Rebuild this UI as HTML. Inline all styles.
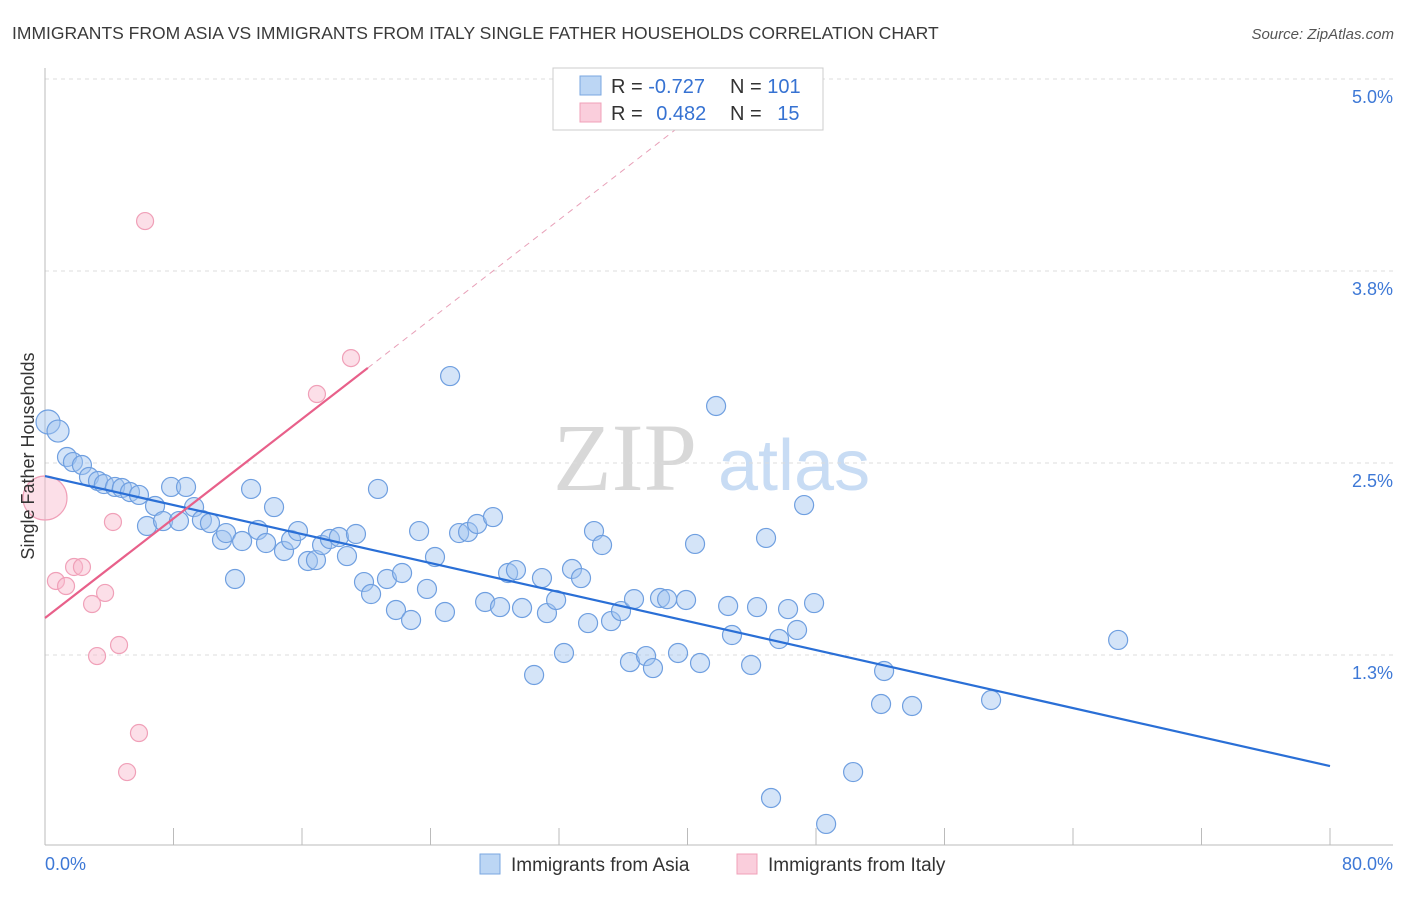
<!DOCTYPE html>
<html><head><meta charset="utf-8"><style>
body{margin:0;background:#fff;font-family:"Liberation Sans",sans-serif;}
svg text{font-family:"Liberation Sans",sans-serif;}
</style></head><body>
<svg id="chart" width="1406" height="892" xmlns="http://www.w3.org/2000/svg">
<text x="12" y="39" font-size="17.5" fill="#3a3a3a">IMMIGRANTS FROM ASIA VS IMMIGRANTS FROM ITALY SINGLE FATHER HOUSEHOLDS CORRELATION CHART</text>
<text x="1394" y="39" font-size="15" fill="#555" font-style="italic" text-anchor="end">Source: ZipAtlas.com</text>
<g>
<text x="553" y="490" font-size="96" fill="#d8d8d8" font-family="Liberation Serif" style="font-family:'Liberation Serif',serif">ZIP</text>
<text x="718" y="490" font-size="72" fill="#c8dcf4">atlas</text>
</g>
<g id="grid"></g>
<g id="axes"></g>
<g id="marks"></g>
<text transform="translate(34,456) rotate(-90)" font-size="18" fill="#333" text-anchor="middle">Single Father Households</text>
<g>
<rect x="553" y="68" width="270" height="62" fill="#fff" stroke="#ccc"/>
<rect x="580" y="76" width="21" height="19" fill="rgba(160,196,240,0.7)" stroke="#7aa7e0"/>
<rect x="580" y="103" width="21" height="19" fill="rgba(248,185,205,0.7)" stroke="#f0a0b8"/>
<text x="611" y="93" font-size="20" fill="#333">R = <tspan fill="#3672d2">-0.727</tspan></text>
<text x="730" y="93" font-size="20" fill="#333">N = <tspan fill="#3672d2">101</tspan></text>
<text x="611" y="120" font-size="20" fill="#333">R = <tspan fill="#3672d2" dx="8">0.482</tspan></text>
<text x="730" y="120" font-size="20" fill="#333">N = <tspan fill="#3672d2" dx="10">15</tspan></text>
</g>
<g>
<rect x="480" y="854" width="20" height="20" fill="rgba(160,196,240,0.7)" stroke="#7aa7e0"/>
<text x="511" y="871" font-size="19" fill="#333">Immigrants from Asia</text>
<rect x="737" y="854" width="20" height="20" fill="rgba(248,185,205,0.7)" stroke="#f0a0b8"/>
<text x="768" y="871" font-size="19" fill="#333">Immigrants from Italy</text>
</g>
</svg>
<script>
const asiaX=[0.19,0.81,1.37,1.74,2.30,2.74,3.30,3.67,4.36,4.79,5.29,5.85,6.35,6.85,7.35,7.85,8.34,8.78,9.28,9.77,10.27,11.02,11.27,11.83,12.27,12.83,13.26,13.76,14.26,14.88,15.32,15.75,16.37,16.87,17.25,17.74,18.30,18.80,19.36,19.86,20.30,20.73,21.29,21.85,22.23,22.79,23.29,23.78,24.28,24.90,25.22,25.78,26.34,26.90,27.40,27.89,28.33,28.83,29.32,29.70,30.45,30.94,31.25,31.82,32.31,32.81,33.37,33.81,34.18,34.68,35.24,35.86,36.42,36.67,37.42,37.85,38.29,38.73,39.41,39.91,40.47,40.78,41.78,42.53,42.77,43.96,44.33,44.89,45.20,45.70,46.26,46.82,47.26,47.88,48.63,50.31,52.24,52.05,53.98,58.90,66.81];
const asiaY=[2.767,2.708,2.539,2.506,2.487,2.409,2.383,2.363,2.344,2.337,2.311,2.292,2.090,2.220,2.122,2.344,2.122,2.344,2.213,2.129,2.109,1.999,2.044,1.745,1.992,2.331,2.064,1.979,2.213,1.927,1.999,2.057,1.862,1.868,1.966,2.005,2.018,1.894,2.038,1.725,1.647,2.331,1.745,1.543,1.784,1.478,2.057,1.680,1.888,1.530,3.066,2.044,2.051,2.103,1.595,2.148,1.562,1.784,1.803,1.556,1.120,1.751,1.523,1.608,1.263,1.810,1.751,1.458,2.057,1.966,1.471,1.536,1.204,1.614,1.243,1.165,1.621,1.614,1.263,1.608,1.973,1.198,2.871,1.569,1.380,1.185,1.562,2.012,0.319,1.354,1.549,1.413,2.226,1.588,0.150,0.488,1.146,0.931,0.918,0.957,1.348];
const italyX=[0,0.68,1.31,1.81,2.30,2.93,3.24,3.74,4.23,4.61,5.11,5.85,6.23,16.93,19.05];
const italyY=[2.272,1.732,1.699,1.823,1.823,1.582,1.243,1.654,2.116,1.315,0.488,0.742,4.075,2.949,3.183];
const asiaTrend=[2.415,0.527];
const italyTrend=[1.491,0.081];
const yTicks=[1.25,2.5,3.75,5.0];
const yTickLabels=["1.3%","2.5%","3.8%","5.0%"];
const xTicks=[0,8,16,24,32,40,48,56,64,72,80];
const xEndLabels=["0.0%","80.0%"];

const NS="http://www.w3.org/2000/svg";
const X0=45,X1=1330,YB=847,PPY=153.6;
function sx(v){return X0+v*(X1-X0)/80;}
function sy(v){return YB-v*PPY;}
function mk(tag,attrs,parent){const e=document.createElementNS(NS,tag);for(const k in attrs)e.setAttribute(k,attrs[k]);parent.appendChild(e);return e;}
const grid=document.getElementById('grid'),axes=document.getElementById('axes'),marks=document.getElementById('marks');
yTicks.forEach((t,i)=>{
  const l=mk('line',{x1:X0,x2:1393,y1:sy(t),y2:sy(t),stroke:'#ddd','stroke-dasharray':'4,4'},grid);
  
  
  const tx=mk('text',{x:1393,y:sy(t)+24,'font-size':18,fill:'#3d78d6','text-anchor':'end'},axes);
  tx.textContent=yTickLabels[i];
  
  
});
let a=mk('line',{x1:X0,x2:X0,y1:68,y2:845,stroke:'#bbb'},axes);


a=mk('line',{x1:X0,x2:1393,y1:845,y2:845,stroke:'#bbb'},axes);


xTicks.forEach(t=>{
  const l=mk('line',{x1:sx(t),x2:sx(t),y1:828,y2:845,stroke:'#bbb'},axes);
  
  
});
let t0=mk('text',{x:45,y:870,'font-size':18,fill:'#3d78d6'},axes);t0.textContent=xEndLabels[0];


let t1=mk('text',{x:1393,y:870,'font-size':18,fill:'#3d78d6','text-anchor':'end'},axes);t1.textContent=xEndLabels[1];



asiaX.forEach((x,i)=>{
  const c=mk('circle',{cx:sx(x),cy:sy(asiaY[i]),r:i==0?12:(i==1?11:9.5),fill:'rgba(160,196,240,0.45)',stroke:'#6f9fe0','stroke-width':1.2},marks);
  
  
});
italyX.forEach((x,i)=>{
  const c=mk('circle',{cx:sx(x),cy:sy(italyY[i]),r:i==0?22:8.5,fill:'rgba(248,185,205,0.45)',stroke:'#f0a0b8','stroke-width':1.2},marks);
  
  
});
let tl=mk('line',{x1:sx(0),y1:sy(asiaTrend[0]),x2:sx(80),y2:sy(asiaTrend[1]),stroke:'#2a6fd6','stroke-width':2.2},marks);


const xs=20.1;
tl=mk('line',{x1:sx(0),y1:sy(italyTrend[0]),x2:sx(xs),y2:sy(italyTrend[0]+italyTrend[1]*xs),stroke:'#e8608a','stroke-width':2.2},marks);


tl=mk('line',{x1:sx(xs),y1:sy(italyTrend[0]+italyTrend[1]*xs),x2:sx(42),y2:sy(italyTrend[0]+italyTrend[1]*42),stroke:'#e8a0b8','stroke-width':1,'stroke-dasharray':'6,5'},marks);


</script>
</body></html>
